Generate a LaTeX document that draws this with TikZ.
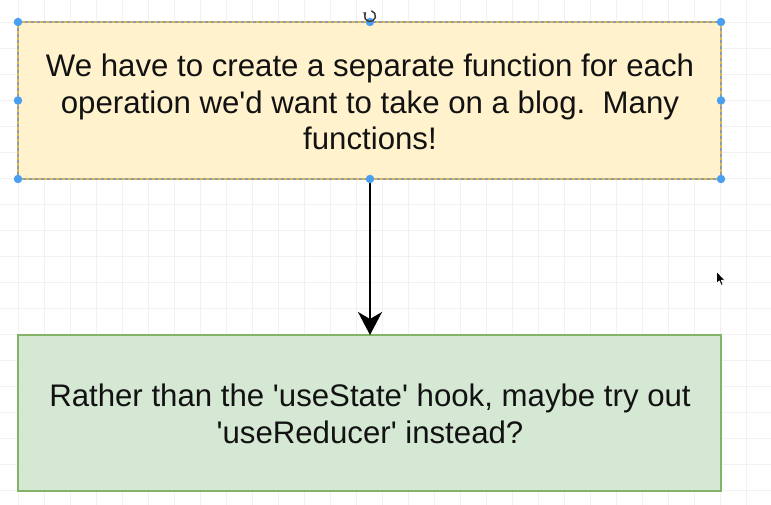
\documentclass[tikz,border=0pt]{standalone}
\usepackage{fontspec}
\setmainfont{Liberation Sans}
\usetikzlibrary{arrows.meta,calc}
\definecolor{gridc}{HTML}{F1F1F1}
\definecolor{yfill}{HTML}{FFF2CC}
\definecolor{ydraw}{HTML}{D6B656}
\definecolor{gfill}{HTML}{D5E8D4}
\definecolor{gdraw}{HTML}{82B366}
\definecolor{selc}{HTML}{4A9FF0}
\definecolor{seldash}{HTML}{8E9BAA}
\newcommand{\sq}{\textquotesingle}
\tikzset{
  boxtext/.style={font=\fontsize{31.2}{36.5}\selectfont, align=center, text=black!93},
  handle/.style={circle, fill=selc, inner sep=0pt, minimum size=8.5pt},
  flowarrow/.style={line width=2.4pt, -{Stealth[length=23pt, width=24pt, inset=7pt]}},
}
\begin{document}
\begin{tikzpicture}[x=1pt, y=-1pt]
\useasboundingbox (0,0) rectangle (771,505);
\fill[white] (0,0) rectangle (771,505);
% grid
\foreach \k in {0,...,29} {\draw[gridc, line width=0.8pt] ({18+26*\k},0) -- ({18+26*\k},505);}
\foreach \k in {-1,...,19} {\draw[gridc, line width=0.8pt] (0,{22+26*\k}) -- (771,{22+26*\k});}
% top box
\path[fill=yfill, draw=ydraw, line width=1.4pt] (18,22) rectangle (721,179);
\draw[seldash, line width=1.2pt, dash pattern=on 3pt off 3pt] (18,22) rectangle (721,179);
\node[boxtext] (top) at (370,102) {We have to create a separate function for each\\operation we\sq d want to take on a blog.\ \ Many\\functions!};
% bottom box
\path[fill=gfill, draw=gdraw, line width=2pt] (18,335) rectangle (721,491);
\node[boxtext] (bot) at (370,414) {Rather than the \sq useState\sq\ hook, maybe try out\\\sq useReducer\sq\ instead?};
\coordinate (a1) at (370,179);
\coordinate (a2) at (370,335);
\draw[flowarrow] (a1) -- (a2);
% selection handles
\foreach \p [count=\i] in {(18,22),(370,22),(721,22),(18,100.5),(721,100.5),(18,179),(370,179),(721,179)}
  \node[handle] (h\i) at \p {};
% rotation handle
\coordinate (rot) at (370,5.5);
\draw[black!75, line width=1.5pt, -{Stealth[length=3pt,width=4.5pt]}] ($(rot)+(75:5.5)$) arc[start angle=75, end angle=-225, radius=5.5pt];
% cursor
\coordinate (cur) at (716.5,271.5);
\filldraw[black, draw=white, line width=0.6pt, shift={(cur)}] (0,0) -- (0,12) -- (2.8,9.4) -- (4.8,13.8) -- (6.6,13) -- (4.7,8.8) -- (8.4,8.6) -- cycle;
\end{tikzpicture}
\end{document}
